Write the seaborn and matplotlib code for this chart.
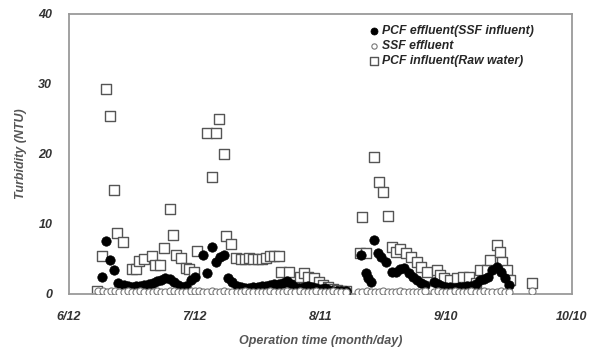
import matplotlib
matplotlib.use("Agg")
import matplotlib.pyplot as plt
import seaborn as sns
import pandas as pd

# ---- data (days since 6/12) ----
pcf_eff_days = [7.8, 8.9, 9.8, 10.8, 11.8, 13, 14, 15, 16, 17, 18, 19, 20, 21, 22, 23, 24, 25, 26, 27, 28, 29, 30,
                32, 33, 34, 35, 36, 37, 38, 39, 40, 41, 42, 43, 44, 45, 46, 47, 48, 49, 50, 51, 52, 53, 54, 55, 56,
                57, 58, 59, 60, 61, 62, 63, 64, 65, 66,
                69.7, 70.9, 71.4, 72, 72.8, 73.7, 74.5, 75.5, 77, 78, 79, 80, 81, 82, 83, 84, 85, 87, 88, 89, 90,
                91, 92, 93, 94, 95, 96, 97, 98, 99, 100, 101, 102, 103, 104, 105]
pcf_eff_vals = [2.5, 7.6, 4.9, 3.4, 1.6, 1.3, 1.2, 1.0, 1.1, 1.2, 1.3, 1.5, 1.6, 1.8, 2.0, 2.3, 2.2, 1.7, 1.3, 1.0, 1.2, 2.0, 2.4,
                5.6, 3.0, 6.7, 4.6, 5.3, 5.6, 2.3, 1.7, 1.2, 1.0, 0.9, 0.9, 1.0, 1.0, 1.1, 1.2, 1.3, 1.4, 1.5, 1.6,
                1.8, 1.4, 1.0, 0.8, 1.0, 1.2, 1.0, 0.9, 0.7, 0.8, 0.6, 0.5, 0.5, 0.5, 0.5,
                5.6, 3.0, 2.3, 1.7, 7.7, 5.8, 5.3, 4.6, 3.1, 3.1, 3.6, 3.7, 3.0, 2.4, 2.0, 1.6, 1.3, 1.7, 1.5, 1.2,
                1.0, 1.0, 0.9, 1.0, 1.0, 1.1, 1.2, 1.5, 2.0, 2.2, 2.5, 3.4, 3.9, 3.2, 2.3, 1.3]

ssf_days = [7, 8, 9, 10, 11, 12, 13, 14, 15, 16, 17, 18, 19, 20, 21, 22, 23, 24, 25, 26, 27, 28, 29, 30,
            31, 32, 33, 34, 35, 36, 37, 38, 39, 40, 41, 42, 43, 44, 45, 46, 47, 48, 49, 50, 51, 52, 53, 54,
            55, 56, 57, 58, 59, 60, 61, 62, 63, 64, 65, 66,
            69, 70, 71, 72, 73, 74, 75, 76, 77, 78, 79, 80, 81, 82, 83, 84, 85,
            87, 88, 89, 90, 91, 92, 93, 94, 95, 96, 97, 98, 99, 100, 101, 102, 103, 104, 105, 110.4]
ssf_vals = [0.4, 0.4, 0.3, 0.4, 0.4, 0.3, 0.3, 0.4, 0.3, 0.3, 0.4, 0.3, 0.3, 0.3, 0.4, 0.3, 0.3, 0.4, 0.4, 0.3, 0.3, 0.3, 0.4, 0.4,
            0.4, 0.3, 0.3, 0.4, 0.3, 0.3, 0.4, 0.3, 0.3, 0.3, 0.3, 0.4, 0.3, 0.3, 0.3, 0.3, 0.3, 0.4, 0.3, 0.3, 0.3, 0.4, 0.3, 0.3,
            0.4, 0.3, 0.3, 0.3, 0.4, 0.3, 0.3, 0.3, 0.4, 0.3, 0.3, 0.3,
            0.3, 0.3, 0.4, 0.3, 0.3, 0.3, 0.4, 0.3, 0.3, 0.3, 0.4, 0.3, 0.3, 0.3, 0.3, 0.3, 0.4,
            0.3, 0.4, 0.3, 0.3, 0.3, 0.4, 0.3, 0.3, 0.3, 0.4, 0.3, 0.3, 0.4, 0.3, 0.3, 0.3, 0.4, 0.3, 0.3, 0.5]

raw_days = [6.7, 7.9, 8.9, 9.8, 10.8, 11.5, 12.9, 15, 16, 16.6, 17.8, 19.8, 20.6, 21.8, 22.6, 24, 24.7, 25.5, 26.6,
            27.8, 28.6, 29.8, 30.6,
            32.8, 34, 35, 35.7, 37, 37.4, 38.6, 39.8, 41, 42, 43, 44, 45, 46, 47, 48, 49, 50, 50.5, 52.5, 53.7,
            55, 56, 57, 58.4, 59.6, 60.5, 61.8, 63, 64, 65, 66,
            69.5, 70, 70.8, 72.8, 74, 75, 76, 77, 78, 79, 80.5, 81.6, 82.9, 84, 85.3, 87.7, 88.4, 89.5, 90.8,
            92.5, 94, 95.5, 97, 98, 99.6, 100.4, 102, 102.8, 103.3, 104.5, 105.2, 110.4]
raw_vals = [0.5, 5.5, 29.3, 25.5, 14.8, 8.7, 7.5, 3.6, 3.6, 4.7, 5.0, 5.4, 4.1, 4.1, 6.6, 12.1, 8.4, 5.6, 5.1,
            3.7, 3.6, 3.2, 6.2,
            23.0, 16.7, 23.0, 25.0, 20.0, 8.3, 7.1, 5.2, 5.0, 5.0, 5.1, 5.0, 5.0, 5.0, 5.1, 5.4, 5.5, 5.5, 3.1, 3.1, 1.3,
            2.4, 3.0, 2.5, 2.3, 1.7, 1.3, 1.0, 0.7, 0.6, 0.5, 0.5,
            5.8, 11.0, 5.8, 19.6, 16.0, 14.6, 11.2, 6.7, 6.0, 6.5, 5.8, 5.3, 4.6, 3.9, 3.2, 3.4, 2.7, 2.3, 2.0,
            2.3, 2.5, 2.5, 1.6, 3.4, 3.4, 4.9, 7.0, 6.0, 4.6, 3.4, 2.0, 1.6]

x_ticks = [0, 30, 60, 90, 120]
x_tick_labels = ["6/12", "7/12", "8/11", "9/10", "10/10"]
y_ticks = [0, 10, 20, 30, 40]

labels = ["PCF effluent(SSF influent)", "SSF effluent", "PCF influent(Raw water)"]

sns.set_style("white")
plt.rcParams["font.family"] = ["Liberation Sans", "DejaVu Sans"]

fig = plt.figure(figsize=(5.96, 3.5), dpi=100)
ax = fig.add_axes([0.1158, 0.16, 0.844, 0.80])

df_raw = pd.DataFrame({"day": raw_days, "val": raw_vals})
df_ssf = pd.DataFrame({"day": ssf_days, "val": ssf_vals})
df_pcf = pd.DataFrame({"day": pcf_eff_days, "val": pcf_eff_vals})

sns.scatterplot(data=df_raw, x="day", y="val", ax=ax, marker="s", s=50, facecolor="white",
                edgecolor="#555555", linewidth=1.0, label=labels[2], zorder=2)
sns.scatterplot(data=df_pcf, x="day", y="val", ax=ax, marker="o", s=46, color="black",
                edgecolor="black", linewidth=0.5, label=labels[0], zorder=3)
sns.scatterplot(data=df_ssf, x="day", y="val", ax=ax, marker="o", s=26, facecolor="white",
                edgecolor="#777777", linewidth=0.8, label=labels[1], zorder=4)

ax.set_xlim(0, 120)
ax.set_ylim(0, 40)
ax.set_xticks(x_ticks)
ax.set_xticklabels(x_tick_labels)
ax.set_yticks(y_ticks)
for lab in ax.get_xticklabels() + ax.get_yticklabels():
    lab.set_fontstyle("italic")
    lab.set_fontweight("bold")
    lab.set_fontsize(9)
    lab.set_color("#333333")
ax.tick_params(axis="y", length=2, width=0.8, color="#999999", pad=10, direction="out")
ax.tick_params(axis="x", length=0, pad=12)

for sp in ax.spines.values():
    sp.set_color("#9a9a9a")
    sp.set_linewidth(1.3)

ax.set_xlabel("Operation time (month/day)", fontsize=9, fontstyle="italic", fontweight="bold",
              color="#555555", labelpad=9)
ax.set_ylabel("Turbidity (NTU)", fontsize=9, fontstyle="italic", fontweight="bold",
              color="#555555", labelpad=8)

handles, labs = ax.get_legend_handles_labels()
order = [labs.index(l) for l in labels]
leg = ax.legend([handles[i] for i in order], [labs[i] for i in order], loc="upper left",
                bbox_to_anchor=(0.58, 0.99), frameon=False, fontsize=8.8, handletextpad=0.2,
                labelspacing=0.25, borderpad=0.2, markerscale=0.75, handlelength=0.8)
for t in leg.get_texts():
    t.set_fontstyle("italic")
    t.set_fontweight("bold")

fig.savefig("out.png", dpi=100)
